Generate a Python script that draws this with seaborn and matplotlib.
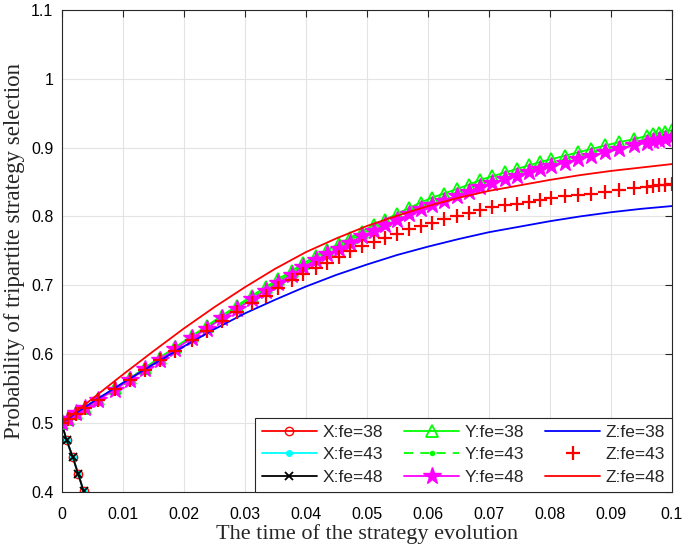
import numpy as np
import seaborn as sns
import matplotlib.pyplot as plt

# time grid of the marker series (solver output points)
t_steps = [0, 0.0011, 0.0024, 0.0038, 0.0060, 0.0087, 0.0112, 0.0136, 0.0161, 0.0186,
           0.0213, 0.0238, 0.0263, 0.0287, 0.0312, 0.0334, 0.0355, 0.0377, 0.0396, 0.0416,
           0.0435, 0.0454, 0.0473, 0.0492, 0.0511, 0.0530, 0.0550, 0.0569, 0.0588, 0.0606,
           0.0626, 0.0648, 0.0667, 0.0686, 0.0705, 0.0727, 0.0746, 0.0765, 0.0784, 0.0802,
           0.0824, 0.0846, 0.0868, 0.0891, 0.0914, 0.0937, 0.0959, 0.0969, 0.0978, 0.0988,
           0.1000]

y_fe38 = [0.500, 0.506, 0.514, 0.522, 0.535, 0.550, 0.565, 0.580, 0.595, 0.610,
          0.626, 0.641, 0.656, 0.670, 0.685, 0.697, 0.709, 0.721, 0.732, 0.742,
          0.751, 0.760, 0.769, 0.778, 0.787, 0.795, 0.804, 0.812, 0.820, 0.827,
          0.833, 0.840, 0.846, 0.853, 0.858, 0.864, 0.869, 0.874, 0.879, 0.883,
          0.888, 0.893, 0.898, 0.903, 0.908, 0.912, 0.917, 0.919, 0.921, 0.923,
          0.925]
y_fe43 = [0.500, 0.506, 0.514, 0.522, 0.535, 0.549, 0.564, 0.579, 0.594, 0.609,
          0.625, 0.639, 0.654, 0.668, 0.683, 0.695, 0.706, 0.718, 0.729, 0.739,
          0.748, 0.757, 0.766, 0.775, 0.783, 0.791, 0.800, 0.808, 0.815, 0.822,
          0.828, 0.835, 0.841, 0.848, 0.853, 0.859, 0.864, 0.869, 0.874, 0.878,
          0.883, 0.888, 0.893, 0.898, 0.903, 0.908, 0.912, 0.914, 0.916, 0.918,
          0.920]
y_fe48 = [0.500, 0.506, 0.514, 0.521, 0.534, 0.548, 0.563, 0.578, 0.592, 0.607,
          0.623, 0.637, 0.652, 0.665, 0.680, 0.692, 0.703, 0.715, 0.726, 0.736,
          0.745, 0.753, 0.762, 0.771, 0.779, 0.787, 0.795, 0.803, 0.810, 0.817,
          0.823, 0.830, 0.836, 0.843, 0.848, 0.854, 0.859, 0.864, 0.869, 0.873,
          0.878, 0.883, 0.888, 0.893, 0.898, 0.903, 0.907, 0.909, 0.911, 0.913,
          0.915]
z_fe43 = [0.500, 0.506, 0.513, 0.521, 0.534, 0.549, 0.563, 0.577, 0.591, 0.605,
          0.620, 0.634, 0.648, 0.661, 0.674, 0.685, 0.696, 0.707, 0.716, 0.725,
          0.733, 0.741, 0.749, 0.757, 0.763, 0.769, 0.775, 0.781, 0.786, 0.791,
          0.796, 0.801, 0.805, 0.809, 0.813, 0.816, 0.818, 0.821, 0.824, 0.826,
          0.829, 0.831, 0.833, 0.836, 0.838, 0.841, 0.843, 0.844, 0.845, 0.846,
          0.847]

# smooth lines without markers
t_line = [0, 0.005, 0.01, 0.015, 0.02, 0.025, 0.03, 0.035, 0.04, 0.045, 0.05,
          0.055, 0.06, 0.065, 0.07, 0.075, 0.08, 0.085, 0.09, 0.095, 0.1]
z_fe38 = [0.500, 0.530, 0.558, 0.585, 0.611, 0.636, 0.659, 0.679, 0.698, 0.715, 0.730,
          0.744, 0.756, 0.767, 0.777, 0.785, 0.793, 0.800, 0.806, 0.811, 0.815]
z_fe48 = [0.500, 0.535, 0.570, 0.604, 0.637, 0.668, 0.697, 0.724, 0.748, 0.768, 0.786,
          0.801, 0.815, 0.827, 0.837, 0.845, 0.853, 0.860, 0.866, 0.871, 0.876]

# X population drops out quickly (all three fe values overlap)
t_x = [0, 0.0008, 0.0018, 0.0027, 0.0036, 0.0046]
x_fe = [0.500, 0.475, 0.451, 0.426, 0.401, 0.376]

x_ticks = [0, 0.01, 0.02, 0.03, 0.04, 0.05, 0.06, 0.07, 0.08, 0.09, 0.1]
x_labels = ['0', '0.01', '0.02', '0.03', '0.04', '0.05', '0.06', '0.07', '0.08', '0.09', '0.1']
y_ticks = [0.4, 0.5, 0.6, 0.7, 0.8, 0.9, 1.0, 1.1]
y_labels = ['0.4', '0.5', '0.6', '0.7', '0.8', '0.9', '1', '1.1']

sns.set_theme(style="whitegrid")
plt.rcParams['font.family'] = ['Liberation Sans', 'DejaVu Sans']

fig, ax = plt.subplots(figsize=(6.85, 5.47), dpi=100)
fig.subplots_adjust(left=0.090, right=0.981, bottom=0.101, top=0.982)

common = dict(ax=ax, errorbar=None, linewidth=1.3)

sns.lineplot(x=t_x, y=x_fe, color='red', marker='o', markersize=6,
             markerfacecolor='none', markeredgecolor='red', markeredgewidth=1.0,
             label='X:fe=38', **common)
sns.lineplot(x=t_x, y=x_fe, color='cyan', marker='.', markersize=8,
             markerfacecolor='cyan', markeredgecolor='cyan', markeredgewidth=1.0,
             label='X:fe=43', **common)
sns.lineplot(x=t_x, y=x_fe, color='black', marker='x', markersize=6,
             markeredgecolor='black', markeredgewidth=1.3,
             label='X:fe=48', **common)

sns.lineplot(x=t_steps, y=y_fe38, color='lime', marker='^', markersize=9,
             markerfacecolor='none', markeredgecolor='lime', markeredgewidth=1.3,
             label='Y:fe=38', **common)
sns.lineplot(x=t_steps, y=y_fe43, color='lime', marker='.', markersize=6,
             markerfacecolor='lime', markeredgecolor='lime', markeredgewidth=1.0,
             linestyle=(0, (5, 4)), label='Y:fe=43', **common)
sns.lineplot(x=t_steps, y=y_fe48, color='magenta', marker='*', markersize=13,
             markerfacecolor='magenta', markeredgecolor='magenta', markeredgewidth=1.0,
             label='Y:fe=48', **common)

sns.lineplot(x=t_line, y=z_fe38, color='blue', label='Z:fe=38', **common)
sns.lineplot(x=t_steps, y=z_fe43, color='red', marker='+', markersize=10,
             markeredgecolor='red', markeredgewidth=1.6, linestyle='none',
             label='Z:fe=43', **common)
sns.lineplot(x=t_line, y=z_fe48, color='red', label='Z:fe=48', **common)

ax.set_xlim(0, 0.1)
ax.set_ylim(0.4, 1.1)
ax.set_xticks(x_ticks)
ax.set_xticklabels(x_labels)
ax.set_yticks(y_ticks)
ax.set_yticklabels(y_labels)
ax.tick_params(direction='in', length=5, width=0.8, colors='#262626',
               labelsize=11.5, top=True, right=True)
ax.tick_params(axis='x', labelcolor='black', pad=11)
ax.tick_params(axis='y', labelcolor='black', pad=6)
ax.grid(True, color='#e3e3e3', linewidth=0.8)
for s in ax.spines.values():
    s.set_color('#262626')
    s.set_linewidth(0.8)

ax.set_xlabel('The time of the strategy evolution', family='Liberation Serif',
              fontsize=16, labelpad=1.5)
ax.set_ylabel('Probability of tripartite strategy selection', family='Liberation Serif',
              fontsize=16.5, labelpad=4)

leg = ax.legend(loc='lower right', ncol=3, fontsize=12.5, handlelength=3.2,
                handletextpad=0.3, columnspacing=1.2, borderaxespad=0.0,
                fancybox=False, framealpha=1, edgecolor='#262626',
                labelspacing=0.42, borderpad=0.4)
leg.get_frame().set_linewidth(0.8)

plt.savefig('out.png', dpi=100)
plt.close()
